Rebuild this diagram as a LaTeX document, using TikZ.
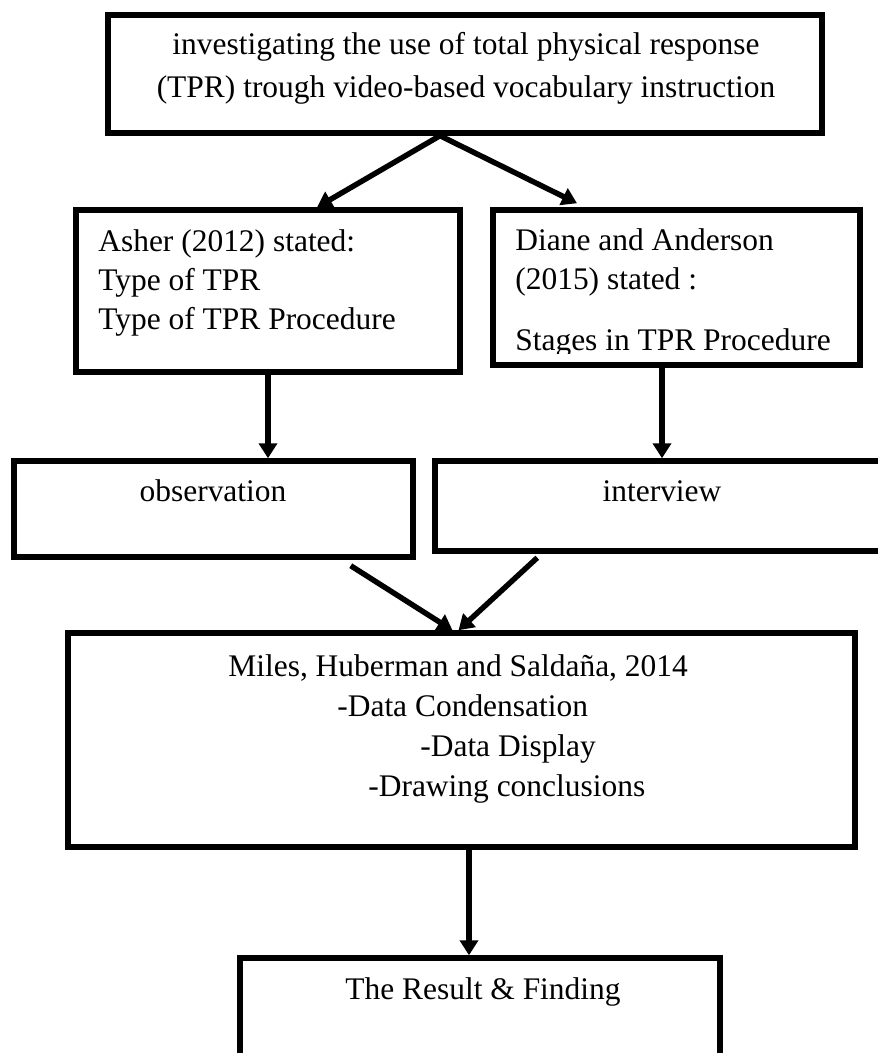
\documentclass[tikz,border=0pt]{standalone}
\usepackage{fontspec}
\setmainfont{Liberation Serif}
\usetikzlibrary{arrows.meta,calc}

\begin{document}
\begin{tikzpicture}[
  font=\fontsize{17.9}{22.2}\selectfont,
  blocco/.style={draw=black, line width=3.1pt, fill=white, inner sep=0pt},
  testo/.style={inner sep=0pt},
  punta/.tip={Triangle[length=0.30cm,width=0.36cm]},
  freccia/.style={draw=black, line width=3.1pt, -punta}
]

% ---- area della figura ---------------------------------------------
\path[use as bounding box, clip] (0,0) rectangle (17.56,21.06);

% ---- blocchi -------------------------------------------------------
\node[blocco, minimum width=14.28cm, minimum height=2.36cm] (titolo) at (9.30,19.58) {};
\node[blocco, minimum width=7.68cm, minimum height=3.24cm] (asher) at (5.36,15.24) {};
\node[blocco, minimum width=7.34cm, minimum height=3.10cm] (diane) at (13.53,15.31) {};
\node[blocco, minimum width=7.98cm, minimum height=1.92cm] (osservazione) at (4.27,10.88) {};
\node[blocco, minimum width=9.08cm, minimum height=1.80cm] (intervista) at (13.24,10.94) {};
\node[blocco, minimum width=15.74cm, minimum height=4.28cm] (miles) at (9.23,6.26) {};
\node[blocco, minimum width=9.60cm, minimum height=2.64cm] (risultato) at (9.60,0.58) {};

% ---- testi (ancorati alla linea di base dell'ultima riga) -----------
\node[testo, align=center, anchor=base] (titolo-testo) at (9.32,19.10)
  {investigating the use of total physical response\\[2.3pt]
   (TPR) trough video-based vocabulary instruction};
\node[testo, align=left, anchor=base west] (asher-testo) at (1.96,14.46)
  {Asher (2012) stated:\\Type of TPR\\Type of TPR Procedure};
\begin{scope}
  \clip (9.9,13.98) rectangle (17.3,16.9);   % ultima riga tagliata dal bordo
  \node[testo, align=left, anchor=base west] (diane-testo) at (10.30,14.04)
    {Diane and Anderson\\(2015) stated :\\[0.44cm]Stages in TPR Procedure};
\end{scope}
\node[testo, anchor=base] (osservazione-testo) at (4.26,11.02) {observation};
\node[testo, anchor=base] (intervista-testo) at (13.24,11.02) {interview};
\node[testo, align=left, anchor=base west] (miles-testo) at (4.56,5.12)
  {Miles, Huberman and Saldaña, 2014\\[0.6pt]
   \hspace*{2.18cm}-Data Condensation\\[0.6pt]
   \hspace*{3.84cm}-Data Display\\[0.6pt]
   \hspace*{2.80cm}-Drawing conclusions};
\node[testo, anchor=base] (risultato-testo) at (9.66,1.06) {The Result \& Finding};

% ---- frecce --------------------------------------------------------
\coordinate (bivio) at ($(titolo.south)+(-0.5,0)$);
\draw[freccia, punta-punta, line join=miter]
  ($(asher.north)+(0.98,0)$) -- (bivio) -- ($(diane.north)+(-1.99,0.08)$);
\draw[freccia] (asher.south) -- (asher.south |- osservazione.north);
\draw[freccia] (intervista.north |- diane.south) -- (intervista.north);
\draw[freccia] ($(osservazione.south east)+(-1.3,-0.12)$) -- ($(miles.north)+(-0.18,0)$);
\draw[freccia] ($(intervista.south west)+(2.1,-0.08)$) -- ($(miles.north)+(-0.06,0)$);
\coordinate (uscita) at ($(miles.south)+(0.15,0)$);
\draw[freccia] (uscita) -- (uscita |- risultato.north);

\end{tikzpicture}
\end{document}
